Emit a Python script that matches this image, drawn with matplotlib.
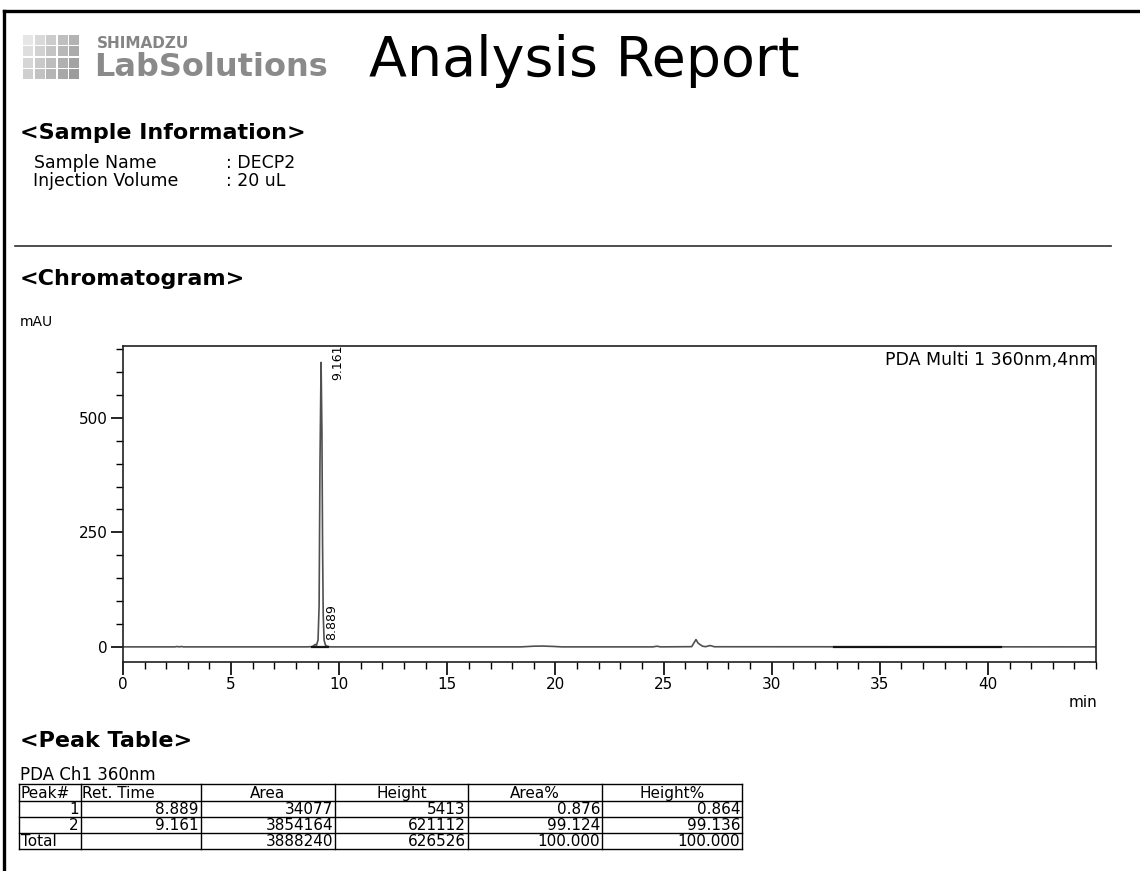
import numpy as np
import matplotlib
matplotlib.use("Agg")
import matplotlib.pyplot as plt
from matplotlib.patches import Rectangle
from matplotlib.lines import Line2D

plt.rcParams['font.family'] = ['DejaVu Sans']

W, H = 1140, 871

# chromatogram trace, PDA 360 nm (time in min, signal in mAU)
rt_min = [0.0, 2.4, 2.5, 2.6, 2.7, 2.8, 8.5, 8.75, 8.83, 8.889, 8.95, 9.02,
          9.07, 9.11, 9.161, 9.2, 9.23, 9.26, 9.3, 9.36, 9.45, 9.6, 18.4,
          19.0, 19.4, 19.9, 20.3, 24.5, 24.7, 24.85, 26.3, 26.5, 26.6,
          26.8, 26.95, 27.15, 27.35, 45.0]
signal_mau = [0.0, 0.0, 0.8, 0.0, 0.8, 0.0, 0.0, 0.5, 3.0, 5.4, 3.5, 15.0,
              90.0, 400.0, 621.1, 470.0, 220.0, 70.0, 15.0, 4.0, 1.0, 0.0, 0.0,
              1.5, 1.8, 1.0, 0.0, 0.0, 1.5, 0.0, 0.5, 16.0, 8.0,
              1.5, 0.5, 3.0, 0.3, 0.0]

# integration baselines (start, end in min)
baseline_start = [8.75, 32.9]
baseline_end = [9.5, 40.6]

# integrated peaks
peak_no = [1, 2]
peak_rt = [8.889, 9.161]
peak_area = [34077, 3854164]
peak_height = [5413, 621112]
area_pct = [0.876, 99.124]
height_pct = [0.864, 99.136]
total_area = 3888240
total_height = 626526

x_ticks = [0, 5, 10, 15, 20, 25, 30, 35, 40]
y_ticks = [0, 250, 500]


def fx(px):
    return px / W


def fy(py):
    return 1 - py / H


fig = plt.figure(figsize=(W / 100, H / 100), dpi=100)

# page frame
fig.add_artist(Line2D([fx(4), fx(4)], [fy(11), 0], color='black', lw=2.4))
fig.add_artist(Line2D([fx(4), 1], [fy(11), fy(11)], color='black', lw=2.4))

# logo grid
for col in range(5):
    for row in range(4):
        shade = 0.90 - 0.05 * col - 0.03 * row
        fig.add_artist(Rectangle((fx(23 + col * 11.5), fy(34 + (row + 1) * 11.2)),
                                 10.3 / W, 10.0 / H, color=(shade, shade, shade),
                                 lw=0))
fig.text(fx(97), fy(43), 'SHIMADZU', fontsize=11, fontweight='bold',
         color='#858585', va='center')
fig.text(fx(94), fy(67), 'LabSolutions', fontsize=23, fontweight='bold',
         color='#8a8a8a', va='center')
fig.text(fx(369), fy(61), 'Analysis Report', fontsize=40, color='black',
         va='center')

# sample information
fig.text(fx(20), fy(133), '<Sample Information>', fontsize=16,
         fontweight='bold', va='center')
fig.text(fx(34), fy(163), 'Sample Name', fontsize=12.5, va='center')
fig.text(fx(226), fy(163), ': DECP2', fontsize=12.5, va='center')
fig.text(fx(33), fy(181), 'Injection Volume', fontsize=12.5, va='center')
fig.text(fx(226), fy(181), ': 20 uL', fontsize=12.5, va='center')
fig.add_artist(Line2D([fx(15), fx(1111)], [fy(246), fy(246)],
                      color='#303030', lw=1.2))

fig.text(fx(20), fy(279), '<Chromatogram>', fontsize=16, fontweight='bold',
         va='center')
fig.text(fx(20), fy(322), 'mAU', fontsize=10, va='center')

# chromatogram axes
ax = fig.add_axes([fx(123), fy(662), (1096 - 123) / W, (662 - 346) / H])
ax.plot(rt_min, signal_mau, color='#505050', lw=1.2)
for x0, x1 in zip(baseline_start, baseline_end):
    ax.plot([x0, x1], [0, 0], color='#151515', lw=1.6)
ax.set_xlim(0, 45)
ax.set_ylim(-33, 657)
ax.set_xticks(x_ticks)
ax.set_xticks(np.arange(0, 46, 1), minor=True)
ax.set_yticks(y_ticks)
ax.set_yticks(np.arange(0, 651, 50), minor=True)
ax.tick_params(which='major', length=9, width=1.2, labelsize=11, pad=2)
ax.tick_params(which='minor', length=5, width=1.0)
for s in ax.spines.values():
    s.set_linewidth(1.2)
    s.set_color('#202020')

ymax = ax.get_ylim()[1]
for rt, h in zip(peak_rt, peak_height):
    h_mau = h / 1000
    ax.text(rt + 0.45, min(h_mau + 10, ymax - 75), f'{rt:.3f}', rotation=90,
            fontsize=9, ha='left', va='bottom')

ax.text(1.0, 0.985, 'PDA Multi 1 360nm,4nm', transform=ax.transAxes,
        fontsize=12.5, ha='right', va='top')
fig.text(fx(1097), fy(702), 'min', fontsize=11, ha='right', va='center')

# peak table
fig.text(fx(20), fy(741), '<Peak Table>', fontsize=16, fontweight='bold',
         va='center')
fig.text(fx(20), fy(775), 'PDA Ch1 360nm', fontsize=12, va='center')

col_edges = [19, 81, 201, 335, 468, 602, 742]
row_edges = [784, 801, 817, 833, 849]
headers = ['Peak#', 'Ret. Time', 'Area', 'Height', 'Area%', 'Height%']
rows = [[str(n), f'{rt:.3f}', str(a), str(h), f'{ap:.3f}', f'{hp:.3f}']
        for n, rt, a, h, ap, hp in zip(peak_no, peak_rt, peak_area,
                                        peak_height, area_pct, height_pct)]
rows.append(['Total', '', str(total_area), str(total_height),
             f'{sum(area_pct):.3f}', f'{sum(height_pct):.3f}'])

for xe in col_edges:
    fig.add_artist(Line2D([fx(xe), fx(xe)], [fy(row_edges[0]), fy(row_edges[-1])],
                          color='black', lw=1.0))
for ye in row_edges:
    fig.add_artist(Line2D([fx(col_edges[0]), fx(col_edges[-1])], [fy(ye), fy(ye)],
                          color='black', lw=1.0))

tfs = 11
for j, text in enumerate(headers):
    xc = (col_edges[j] + col_edges[j + 1]) / 2
    yc = (row_edges[0] + row_edges[1]) / 2 + 0.5
    if j < 2:
        fig.text(fx(col_edges[j] + 1), fy(yc), text, fontsize=tfs,
                 va='center', ha='left')
    else:
        fig.text(fx(xc), fy(yc), text, fontsize=tfs, va='center', ha='center')
for i, row in enumerate(rows):
    yc = (row_edges[i + 1] + row_edges[i + 2]) / 2 + 0.5
    for j, text in enumerate(row):
        if text == 'Total':
            fig.text(fx(col_edges[j] + 2), fy(yc), text, fontsize=tfs,
                     va='center', ha='left')
        else:
            fig.text(fx(col_edges[j + 1] - 2), fy(yc), text, fontsize=tfs,
                     va='center', ha='right')

fig.savefig('out.png', dpi=100)
